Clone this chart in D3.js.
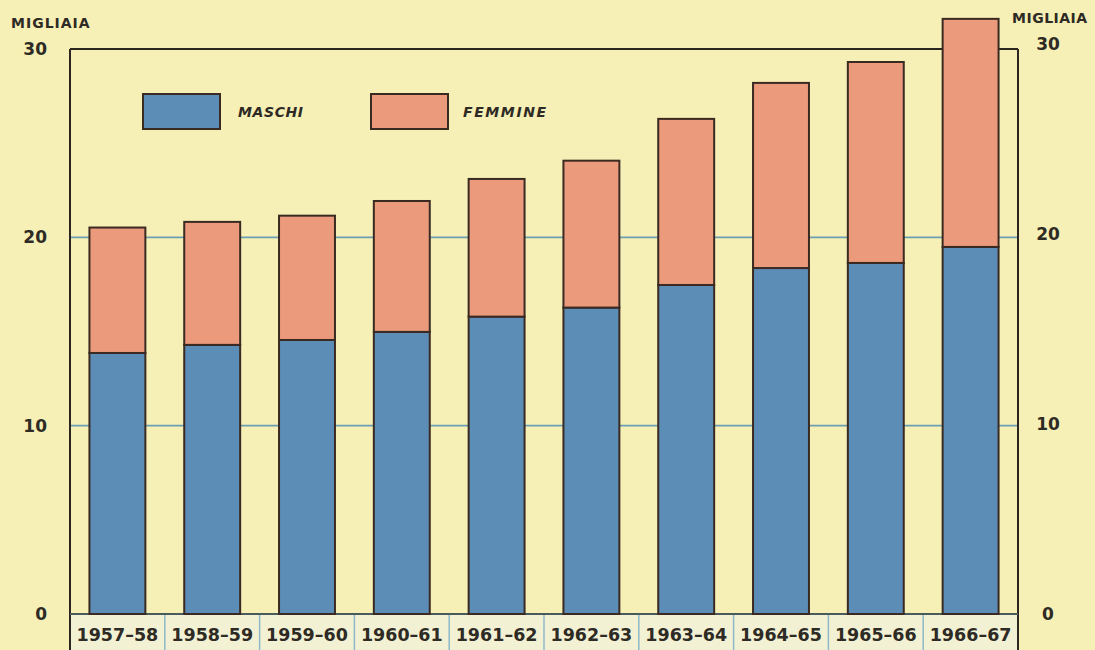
<!DOCTYPE html>
<html>
<head>
<meta charset="utf-8">
<script src="https://cdn.jsdelivr.net/npm/d3@7"></script>
<style>
    body { margin: 0; background: #f6efb6; }
    svg { display: block; }
    .lbl { font-family: "DejaVu Sans", sans-serif; font-weight: bold; fill: #2e2a24; }
</style>
</head>
<body>
<div id="chart"></div>
<script>
(function() {
    // valori in migliaia
    var anni = ["1957–58", "1958–59", "1959–60", "1960–61", "1961–62",
                "1962–63", "1963–64", "1964–65", "1965–66", "1966–67"];
    var maschi = [13.86, 14.29, 14.55, 14.98, 15.79, 16.27, 17.47, 18.37, 18.64, 19.49];
    var femmine = [6.66, 6.53, 6.60, 6.95, 7.31, 7.80, 8.82, 9.83, 10.67, 12.11];
    var yTicks = [0, 10, 20, 30];
    var serie = ["MASCHI", "FEMMINE"];
    var colori = ["#5b8db6", "#eb9a7c"];

    var baseWidth = 1095, baseHeight = 650;
    var left = 70, right = 1018, top = 49, bottom = 614;

    var x = d3.scaleBand().domain(anni).range([left, right]).paddingInner(0.41).paddingOuter(0.205);
    var y = d3.scaleLinear().domain([0, 30]).range([bottom, top]);
    var col = d3.scaleOrdinal().domain(serie).range(colori);

    var righe = anni.map(function(a, i) {
        return { anno: a, MASCHI: maschi[i], FEMMINE: femmine[i] };
    });
    var stacked = d3.stack().keys(serie)(righe);

    var svg = d3.select("#chart")
        .append("svg")
            .attr("width", baseWidth)
            .attr("height", baseHeight);

    // fascia delle etichette in basso
    svg.append("rect")
        .attr("x", left)
        .attr("y", bottom)
        .attr("width", right - left)
        .attr("height", baseHeight - bottom)
        .style("fill", "#f2f1d4");

    // griglia
    svg.append("g")
        .selectAll("line")
        .data(yTicks.filter(function(d) { return d > 0 && d < 30; }))
        .enter()
        .append("line")
            .attr("x1", left)
            .attr("x2", right)
            .attr("y1", function(d) { return y(d); })
            .attr("y2", function(d) { return y(d); })
            .style("stroke", "#6b9fb3")
            .style("stroke-width", 1.6);

    // separatori delle etichette
    var confini = anni.slice(1).map(function(a) { return x(a) - x.step() * x.paddingInner() / 2; });
    svg.append("g")
        .selectAll("line")
        .data(confini)
        .enter()
        .append("line")
            .attr("x1", function(d) { return d; })
            .attr("x2", function(d) { return d; })
            .attr("y1", bottom)
            .attr("y2", baseHeight)
            .style("stroke", "#8fb8c8")
            .style("stroke-width", 1.5);

    // cornice
    var frame = svg.append("g")
        .style("stroke", "#2b2620")
        .style("stroke-width", 2)
        .style("fill", "none");
    frame.append("line").attr("x1", left).attr("x2", right).attr("y1", y(30)).attr("y2", y(30));
    frame.append("line").attr("x1", left).attr("x2", left).attr("y1", y(30)).attr("y2", baseHeight);
    frame.append("line").attr("x1", right).attr("x2", right).attr("y1", y(30)).attr("y2", baseHeight);
    frame.append("line").attr("x1", left).attr("x2", right).attr("y1", bottom).attr("y2", bottom)
        .style("stroke", "#4b5a5a");

    // barre
    svg.append("g")
        .selectAll("g")
        .data(stacked)
        .enter()
        .append("g")
            .style("fill", function(d) { return col(d.key); })
        .selectAll("rect")
        .data(function(d) { return d; })
        .enter()
        .append("rect")
            .attr("x", function(d) { return x(d.data.anno); })
            .attr("y", function(d) { return y(d[1]); })
            .attr("width", x.bandwidth())
            .attr("height", function(d) { return y(d[0]) - y(d[1]); })
            .style("stroke", "#3a2a22")
            .style("stroke-width", 2);

    // etichette degli anni
    svg.append("g")
        .selectAll("text")
        .data(anni)
        .enter()
        .append("text")
            .classed("lbl", true)
            .attr("x", function(d) { return x(d) + x.bandwidth() / 2; })
            .attr("y", 641)
            .attr("text-anchor", "middle")
            .style("font-size", "17.5px")
            .text(function(d) { return d; });

    // valori asse sinistro e destro
    svg.append("g")
        .selectAll("text")
        .data(yTicks)
        .enter()
        .append("text")
            .classed("lbl", true)
            .attr("x", 47)
            .attr("y", function(d) { return y(d) + 6; })
            .attr("text-anchor", "end")
            .style("font-size", "17px")
            .text(function(d) { return d; });

    svg.append("g")
        .selectAll("text")
        .data(yTicks)
        .enter()
        .append("text")
            .classed("lbl", true)
            .attr("x", 1048)
            .attr("y", function(d) { return y(d) + 6 - (d / 30) * 5; })
            .attr("text-anchor", "middle")
            .style("font-size", "17px")
            .text(function(d) { return d; });

    svg.append("text")
        .classed("lbl", true)
        .attr("x", 11)
        .attr("y", 28)
        .style("font-size", "14px")
        .style("letter-spacing", "1px")
        .text("MIGLIAIA");

    svg.append("text")
        .classed("lbl", true)
        .attr("x", 1012)
        .attr("y", 23)
        .style("font-size", "14px")
        .style("letter-spacing", "0.5px")
        .text("MIGLIAIA");

    // legenda
    var legend = svg.append("g")
        .selectAll("g")
        .data(serie)
        .enter()
        .append("g")
            .attr("transform", function(d, i) { return "translate(" + (143 + i * 228) + ", 94)"; });

    legend.append("rect")
        .attr("width", 77)
        .attr("height", 35)
        .style("fill", function(d) { return col(d); })
        .style("stroke", "#3a2a22")
        .style("stroke-width", 2);

    legend.append("text")
        .classed("lbl", true)
        .attr("x", function(d, i) { return i === 0 ? 95 : 92; })
        .attr("y", 23)
        .style("font-size", "14px")
        .style("font-style", "italic")
        .style("letter-spacing", function(d, i) { return i === 0 ? "0.6px" : "1.6px"; })
        .text(function(d) { return d; });
})()
</script>
</body>
</html>
